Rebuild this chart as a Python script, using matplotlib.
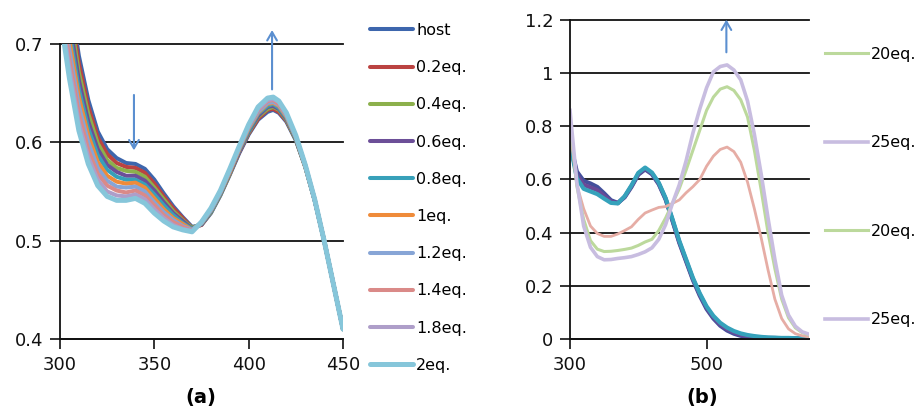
import matplotlib
matplotlib.use("Agg")
import matplotlib.pyplot as plt

plt.rcParams['font.family'] = ['DejaVu Sans']

# ---- panel (a): titration 0 - 2 eq ----
wl_a = [300, 305, 310, 315, 320, 325, 330, 335, 340, 345, 350, 355, 360, 365, 370, 375,
        380, 385, 390, 395, 400, 405, 410, 413, 416, 420, 425, 430, 435, 440, 445, 450]

host = [0.820, 0.752, 0.688, 0.643, 0.611, 0.593, 0.584, 0.579, 0.578, 0.573, 0.562, 0.548, 0.535, 0.524, 0.514, 0.516,
        0.528, 0.546, 0.567, 0.589, 0.608, 0.623, 0.631, 0.633, 0.630, 0.621, 0.602, 0.575, 0.541, 0.500, 0.455, 0.410]
eq02 = [0.810, 0.742, 0.680, 0.636, 0.605, 0.588, 0.579, 0.575, 0.574, 0.569, 0.558, 0.545, 0.533, 0.523, 0.513, 0.516,
        0.529, 0.547, 0.568, 0.590, 0.609, 0.624, 0.633, 0.634, 0.631, 0.622, 0.603, 0.575, 0.541, 0.500, 0.455, 0.410]
eq04 = [0.800, 0.733, 0.671, 0.629, 0.599, 0.582, 0.574, 0.571, 0.570, 0.565, 0.554, 0.542, 0.530, 0.521, 0.513, 0.517,
        0.529, 0.547, 0.568, 0.591, 0.610, 0.626, 0.634, 0.636, 0.633, 0.623, 0.603, 0.575, 0.541, 0.500, 0.455, 0.410]
eq06 = [0.790, 0.723, 0.663, 0.621, 0.593, 0.577, 0.570, 0.566, 0.566, 0.561, 0.551, 0.539, 0.528, 0.520, 0.512, 0.517,
        0.530, 0.548, 0.569, 0.591, 0.611, 0.627, 0.636, 0.637, 0.634, 0.624, 0.604, 0.576, 0.541, 0.500, 0.455, 0.410]
eq08 = [0.780, 0.713, 0.654, 0.614, 0.587, 0.572, 0.565, 0.562, 0.562, 0.557, 0.547, 0.536, 0.526, 0.518, 0.512, 0.517,
        0.530, 0.548, 0.570, 0.592, 0.612, 0.629, 0.637, 0.639, 0.635, 0.625, 0.604, 0.576, 0.541, 0.500, 0.455, 0.410]
eq10 = [0.770, 0.704, 0.646, 0.607, 0.580, 0.566, 0.560, 0.558, 0.559, 0.554, 0.543, 0.532, 0.523, 0.517, 0.511, 0.518,
        0.531, 0.549, 0.570, 0.593, 0.614, 0.630, 0.639, 0.640, 0.637, 0.626, 0.605, 0.576, 0.542, 0.500, 0.455, 0.410]
eq12 = [0.760, 0.694, 0.637, 0.600, 0.574, 0.561, 0.555, 0.554, 0.555, 0.550, 0.539, 0.529, 0.521, 0.515, 0.511, 0.518,
        0.531, 0.549, 0.571, 0.594, 0.615, 0.631, 0.640, 0.641, 0.638, 0.627, 0.605, 0.576, 0.542, 0.500, 0.455, 0.410]
eq14 = [0.750, 0.684, 0.629, 0.592, 0.568, 0.556, 0.551, 0.549, 0.551, 0.546, 0.536, 0.526, 0.519, 0.514, 0.510, 0.518,
        0.532, 0.550, 0.571, 0.594, 0.616, 0.633, 0.642, 0.643, 0.639, 0.628, 0.606, 0.577, 0.542, 0.500, 0.455, 0.410]
eq18 = [0.740, 0.675, 0.620, 0.585, 0.562, 0.550, 0.546, 0.545, 0.547, 0.542, 0.532, 0.523, 0.516, 0.512, 0.510, 0.519,
        0.532, 0.550, 0.572, 0.595, 0.617, 0.634, 0.643, 0.644, 0.641, 0.629, 0.606, 0.577, 0.542, 0.500, 0.455, 0.410]
eq20 = [0.730, 0.665, 0.612, 0.578, 0.556, 0.545, 0.541, 0.541, 0.543, 0.538, 0.528, 0.520, 0.514, 0.511, 0.509, 0.519,
        0.533, 0.551, 0.573, 0.596, 0.618, 0.636, 0.645, 0.646, 0.642, 0.630, 0.607, 0.577, 0.542, 0.500, 0.455, 0.410]

labels_a = ["host", "0.2eq.", "0.4eq.", "0.6eq.", "0.8eq.", "1eq.", "1.2eq.", "1.4eq.", "1.8eq.", "2eq."]
series_a = [host, eq02, eq04, eq06, eq08, eq10, eq12, eq14, eq18, eq20]
colors_a = ["#3d66ad", "#bb4341", "#8cb04c", "#6c4f98", "#37a0b9",
            "#ef8b3a", "#87a5d6", "#da8a88", "#ae9ec9", "#86c6da"]

# ---- panel (b): higher equivalents ----
wl_b = [300, 310, 320, 330, 340, 350, 360, 370, 380, 390, 400, 410, 420, 430, 440, 450, 460, 470,
        480, 490, 500, 510, 520, 530, 540, 550, 560, 570, 580, 590, 600, 610, 620, 630, 640, 650]

b_host = [0.740, 0.630, 0.595, 0.585, 0.572, 0.548, 0.522, 0.512, 0.533, 0.572, 0.618, 0.638, 0.620, 0.582, 0.525, 0.445, 0.362, 0.292,
          0.222, 0.163, 0.113, 0.077, 0.050, 0.032, 0.020, 0.012, 0.007, 0.004, 0.003, 0.002, 0.002, 0.002, 0.002, 0.002, 0.002, 0.002]
b_mid = [0.738, 0.618, 0.580, 0.570, 0.560, 0.538, 0.517, 0.511, 0.535, 0.575, 0.621, 0.641, 0.623, 0.585, 0.528, 0.448, 0.366, 0.296,
         0.226, 0.168, 0.118, 0.082, 0.055, 0.037, 0.025, 0.016, 0.011, 0.008, 0.005, 0.004, 0.004, 0.003, 0.003, 0.002, 0.002, 0.002]
b_end = [0.735, 0.605, 0.565, 0.555, 0.545, 0.528, 0.512, 0.510, 0.537, 0.578, 0.625, 0.645, 0.626, 0.588, 0.530, 0.452, 0.370, 0.300,
         0.230, 0.172, 0.123, 0.087, 0.061, 0.043, 0.030, 0.021, 0.015, 0.011, 0.008, 0.006, 0.005, 0.004, 0.004, 0.003, 0.003, 0.003]
b_10eq = [0.790, 0.580, 0.490, 0.425, 0.397, 0.386, 0.386, 0.395, 0.408, 0.422, 0.450, 0.474, 0.485, 0.495, 0.498, 0.510, 0.523, 0.550,
          0.573, 0.600, 0.650, 0.688, 0.713, 0.722, 0.705, 0.665, 0.590, 0.490, 0.380, 0.260, 0.150, 0.077, 0.038, 0.020, 0.012, 0.008]
b_20eq = [0.830, 0.575, 0.450, 0.370, 0.338, 0.329, 0.330, 0.333, 0.337, 0.342, 0.352, 0.365, 0.375, 0.408, 0.455, 0.510, 0.565, 0.635,
          0.710, 0.785, 0.860, 0.910, 0.940, 0.949, 0.935, 0.900, 0.835, 0.710, 0.560, 0.400, 0.265, 0.150, 0.080, 0.042, 0.024, 0.015]
b_25eq = [0.860, 0.590, 0.425, 0.345, 0.310, 0.298, 0.299, 0.303, 0.306, 0.310, 0.318, 0.328, 0.343, 0.375, 0.430, 0.510, 0.580, 0.670,
          0.775, 0.865, 0.945, 1.005, 1.025, 1.031, 1.012, 0.975, 0.895, 0.770, 0.620, 0.455, 0.300, 0.165, 0.090, 0.048, 0.027, 0.018]

legend_b = ["20eq.", "25eq.", "20eq.", "25eq."]

arrow_c = "#5b8fd0"

fig = plt.figure(figsize=(9.23, 4.11), dpi=100)

# panel (a)
ax1 = fig.add_axes([60 / 923, 72 / 411, 283 / 923, 295 / 411])
lines_a = []
for ys, c, lab in zip(series_a, colors_a, labels_a):
    lw = 3.6 if lab == "2eq." else 2.9
    ln, = ax1.plot(wl_a, ys, color=c, lw=lw, label=lab, solid_capstyle="round")
    lines_a.append(ln)
ax1.set_xlim(300, 450)
ax1.set_ylim(0.4, 0.7)
ax1.set_xticks([300, 350, 400, 450])
ax1.set_yticks([0.4, 0.5, 0.6, 0.7])
ax1.set_yticklabels(["0.4", "0.5", "0.6", "0.7"])
ax1.annotate("", xy=(339.2, 0.589), xytext=(339.2, 0.651),
             arrowprops=dict(arrowstyle="->,head_width=0.35,head_length=0.6", color=arrow_c, lw=1.5))
ax1.annotate("", xy=(412.4, 0.717), xytext=(412.4, 0.651), annotation_clip=False,
             arrowprops=dict(arrowstyle="->,head_width=0.35,head_length=0.6", color=arrow_c, lw=1.5))

# panel (b)
ax2 = fig.add_axes([570 / 923, 72 / 411, 239 / 923, 319 / 411])
for ys, c in zip([b_host, b_mid, b_end], ["#44509c", "#6a4a97", "#35a2bb"]):
    ax2.plot(wl_b, ys, color=c, lw=3.0)
ax2.plot(wl_b, b_10eq, color="#e6ada5", lw=2.0)
g_ln, = ax2.plot(wl_b, b_20eq, color="#bcd99c", lw=2.2)
p_ln, = ax2.plot(wl_b, b_25eq, color="#c8bde0", lw=2.6)
ax2.set_xlim(300, 650)
ax2.set_ylim(0, 1.2)
ax2.set_xticks([300, 500])
ax2.set_yticks([0, 0.2, 0.4, 0.6, 0.8, 1.0, 1.2])
ax2.set_yticklabels(["0", "0.2", "0.4", "0.6", "0.8", "1", "1.2"])
ax2.annotate("", xy=(529, 1.212), xytext=(529, 1.068), annotation_clip=False,
             arrowprops=dict(arrowstyle="->,head_width=0.35,head_length=0.6", color=arrow_c, lw=1.5))

for ax in (ax1, ax2):
    ax.spines["top"].set_visible(False)
    ax.spines["right"].set_visible(False)
    for s in ("left", "bottom"):
        ax.spines[s].set_linewidth(1.3)
        ax.spines[s].set_color("#111111")
    ax.yaxis.grid(True, color="#111111", lw=1.3)
    for gl in ax.get_ygridlines():
        gl.set_clip_on(False)
    ax.set_axisbelow(True)
    ax.tick_params(direction="out", length=7, width=1.2, labelsize=13, pad=5, colors="#111111")

fig.legend(handles=lines_a, labels=labels_a, loc="upper left",
           bbox_to_anchor=(370 / 923, 1 - 23 / 411), frameon=False, fontsize=11.5,
           handlelength=2.7, handletextpad=0.2, labelspacing=1.39, borderpad=0, borderaxespad=0)
fig.legend(handles=[g_ln, p_ln, g_ln, p_ln], labels=legend_b, loc="upper left",
           bbox_to_anchor=(825 / 923, 1 - 47 / 411), frameon=False, fontsize=11.5,
           handlelength=2.7, handletextpad=0.2, labelspacing=4.6, borderpad=0, borderaxespad=0)

fig.text(201 / 923, 14 / 411, "(a)", ha="center", va="center", fontsize=14, fontweight="bold")
fig.text(702 / 923, 14 / 411, "(b)", ha="center", va="center", fontsize=14, fontweight="bold")

fig.savefig("out.png", dpi=100)
